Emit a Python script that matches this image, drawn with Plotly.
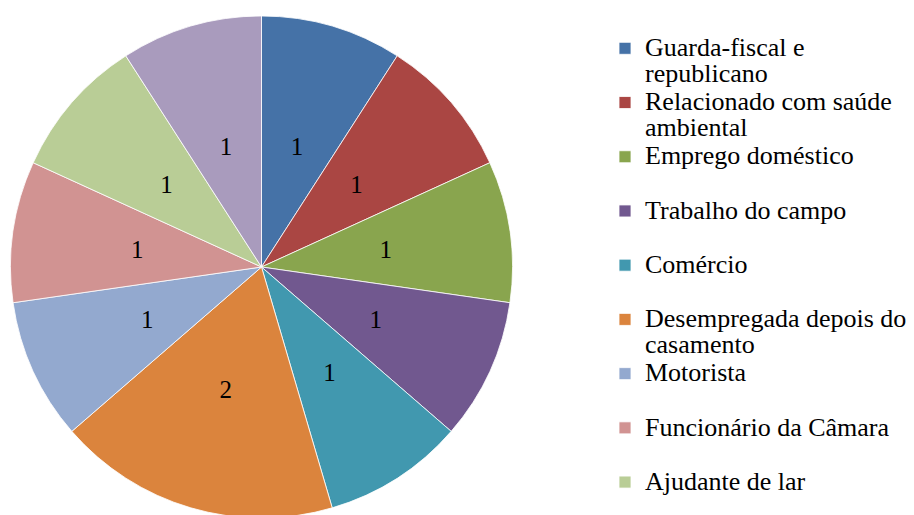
import plotly.graph_objects as go

# ---------------- data ----------------
categories = [
    "Guarda-fiscal e republicano",
    "Relacionado com saúde ambiental",
    "Emprego doméstico",
    "Trabalho do campo",
    "Comércio",
    "Desempregada depois do casamento",
    "Motorista",
    "Funcionário da Câmara",
    "Ajudante de lar",
    "Outra",
]
values = [1, 1, 1, 1, 1, 2, 1, 1, 1, 1]
colors = ["#4572A7", "#AA4643", "#89A54E", "#71588F", "#4198AF",
          "#DB843D", "#93A9CF", "#D19392", "#B9CD96", "#A99BBD"]

FONT = "Liberation Serif"

# the page's default 8px body margin shifts the figure; compensate
OFF = 8
W, H = 914, 600


def px_x(x):
    return (x - OFF) / W


def px_y(y):
    return 1 - (y - OFF) / H


# legend text wrapped like the original (each entry takes two lines)
wrap = {
    "Guarda-fiscal e republicano": "Guarda-fiscal e<br>republicano",
    "Relacionado com saúde ambiental": "Relacionado com saúde<br>ambiental",
    "Desempregada depois do casamento": "Desempregada depois do<br>casamento",
}


def legend_text(c):
    lines = wrap.get(c, c + "<br> ").split("<br>")
    return "<br>".join('<span style="font-size:26px">%s</span>' % l for l in lines)


legend_labels = [legend_text(c) for c in categories]

# pie geometry (screen pixels)
CX, CY, R = 261.5, 267.0, 251.0


def dom(r):
    return dict(x=[px_x(CX - r), px_x(CX + r)], y=[px_y(CY + r), px_y(CY - r)])


common = dict(labels=legend_labels, values=values, sort=False,
              direction="clockwise", rotation=0)

fig = go.Figure()
fig.add_trace(go.Pie(
    **common,
    marker=dict(colors=colors, line=dict(color="white", width=0.8)),
    textinfo="none",
    domain=dom(R),
    hovertemplate="%{label}: %{value}<extra></extra>",
))

# value labels: transparent overlays so plotly puts them at about half radius
transparent = ["rgba(0,0,0,0)"] * len(values)
for r, keep in [(161.0, lambda v: v == 1), (196.0, lambda v: v != 1)]:
    fig.add_trace(go.Pie(
        **common,
        marker=dict(colors=transparent, line=dict(width=0)),
        text=[str(v) if keep(v) else "" for v in values],
        textinfo="text",
        textposition="inside",
        insidetextorientation="horizontal",
        textfont=dict(family=FONT, size=25, color="black"),
        domain=dom(r),
        showlegend=False,
        hoverinfo="skip",
    ))

fig.update_layout(
    width=W, height=H,
    margin=dict(l=0, r=0, t=0, b=0),
    paper_bgcolor="white",
    font=dict(family=FONT, size=20, color="black"),
    legend=dict(x=px_x(605), y=px_y(29), xanchor="left", yanchor="top",
                valign="top", font=dict(family=FONT, size=19.7, color="black"),
                itemwidth=30),
    showlegend=True,
)

fig.write_html("out.html")
